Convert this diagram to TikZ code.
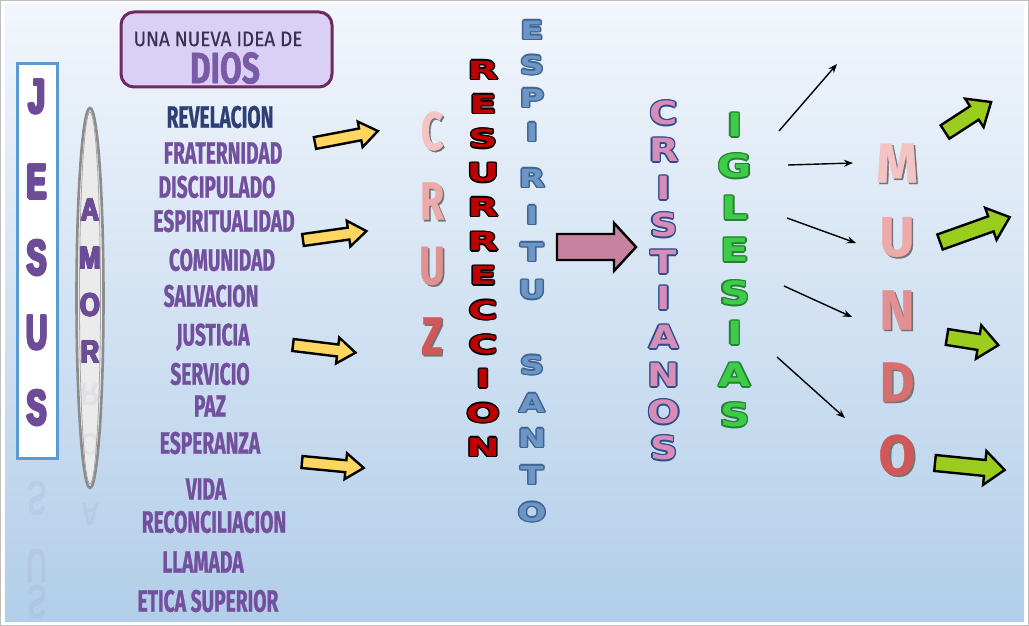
\documentclass[tikz,border=0pt]{standalone}
\usepackage{fontspec}
\usetikzlibrary{arrows.meta}
\setmainfont{Fira Sans}
\newfontfamily\listfont[FakeStretch=0.62,FakeBold=0.8]{Fira Sans}
\newfontfamily\headfont[FakeStretch=0.9,FakeBold=0.6]{Fira Sans}
\newfontfamily\diosfont[FakeStretch=0.72,FakeBold=1]{Fira Sans}
\newfontfamily\jfont[FakeStretch=0.6]{Liberation Sans}
\newfontfamily\afont[FakeStretch=0.8]{Liberation Sans}
\newfontfamily\widefont[FakeStretch=1.6]{DejaVu Sans}
\newfontfamily\wideb[FakeStretch=1.2]{DejaVu Sans}
\newfontfamily\widee[FakeStretch=1.35]{DejaVu Sans}
\newfontfamily\widec[FakeStretch=1.3]{DejaVu Sans}
\newfontfamily\comic[FakeStretch=0.72,FakeBold=0.6]{Fira Sans}
\newfontfamily\comicw[FakeStretch=0.95,FakeBold=0.6]{Fira Sans}
\definecolor{bgtop}{RGB}{242,246,252}
\definecolor{bgbot}{RGB}{178,206,233}
\definecolor{lpurple}{RGB}{115,80,158}
\definecolor{ldark}{RGB}{46,62,118}
\definecolor{jpurple}{RGB}{108,76,150}
\definecolor{boxfill}{RGB}{218,208,246}
\definecolor{boxdraw}{RGB}{110,42,94}
\definecolor{headtext}{RGB}{58,48,80}
\definecolor{diosc}{RGB}{122,90,166}
\definecolor{jblue}{RGB}{91,155,213}
\definecolor{resred}{RGB}{192,0,0}
\definecolor{espfill}{RGB}{110,150,196}
\definecolor{espline}{RGB}{60,100,148}
\definecolor{crpink}{RGB}{216,140,184}
\definecolor{crblue}{RGB}{43,76,140}
\definecolor{iggreen}{RGB}{61,203,72}
\definecolor{igdark}{RGB}{36,130,50}
\definecolor{yarrow}{RGB}{255,215,96}
\definecolor{garrow}{RGB}{154,205,30}
\definecolor{parrow}{RGB}{198,130,159}
\definecolor{pk1}{RGB}{244,196,196}
\definecolor{pk2}{RGB}{236,170,170}
\definecolor{pk3}{RGB}{225,145,145}
\definecolor{pk4}{RGB}{214,112,112}
\definecolor{pk5}{RGB}{208,88,88}
\tikzset{
  lw/.style={font=\listfont\bfseries\fontsize{31}{31}\selectfont, text=lpurple, inner sep=0pt},
  jl/.style={font=\jfont\bfseries\fontsize{49}{49}\selectfont, text=jpurple, inner sep=0pt},
  al/.style={font=\afont\bfseries\fontsize{32}{32}\selectfont, text=jpurple, inner sep=0pt},
  resl/.style={font=\widefont\bfseries\fontsize{25}{25}\selectfont, inner sep=0pt},
  espl/.style={font=\widee\bfseries\fontsize{25}{25}\selectfont, inner sep=0pt},
  crl/.style={font=\wideb\bfseries\fontsize{32}{32}\selectfont, inner sep=0pt},
  igl/.style={font=\widec\bfseries\fontsize{32}{32}\selectfont, inner sep=0pt},
  bigl/.style={font=\comic\bfseries\fontsize{54}{54}\selectfont, inner sep=0pt},
  bigw/.style={font=\comicw\bfseries\fontsize{56}{56}\selectfont, inner sep=0pt},
  blockarr/.style={draw=black, line width=2.4pt, line join=miter},
  thinarr/.style={line width=1.4pt, -{Stealth[length=9pt,width=7pt]}},
}
% outlined letter: #1 name, #2 position, #3 style, #4 outline colour, #5 fill colour, #6 text, #7 outline width
\newcommand\olnodew[7]{%
  \foreach \dx/\dy in {1/0,-1/0,0/1,0/-1,0.7/0.7,-0.7/0.7,0.7/-0.7,-0.7/-0.7}{%
    \node[#3,text=#4,xshift=\dx*#7,yshift=\dy*#7] at #2 {#6};}
  \node[#3,text=#5] (#1) at #2 {#6};}
\newcommand\olnode[6]{\olnodew{#1}{#2}{#3}{#4}{#5}{#6}{1.5pt}}
\newcommand\shnode[5]{%
  \node[#3,text=black!55,xshift=1.6pt,yshift=-1.6pt] at #2 {#5};
  \node[#3,text=#4] (#1) at #2 {#5};}
\newcommand\blockarrow[9]{%
  \begin{scope}[shift={(#2,#3)},rotate=#4]
    \draw[blockarr,fill=#9] (0,-#6) -- ({#5-#8},-#6) -- ({#5-#8},-#7) -- (#5,0)
      -- ({#5-#8},#7) -- ({#5-#8},#6) -- (0,#6) -- cycle;
    \coordinate (#1) at (#5,0);
  \end{scope}}
\begin{document}
\begin{tikzpicture}[x=1pt,y=-1pt]
\useasboundingbox (0,0) rectangle (1029,626);
\fill[white] (0,0) rectangle (1029,626);
\shade[top color=bgtop, bottom color=bgbot] (5,5) rectangle (1024,621);
\draw[black!25, line width=0.8pt] (0.4,0.4) rectangle (1028.6,625.6);

% title box
\draw[line width=3pt, draw=boxdraw, fill=boxfill, rounded corners=13pt] (121,12) rectangle (332,87);
\node[font=\headfont\fontsize{21}{21}\selectfont, text=headtext, inner sep=0pt] (una) at (218,39) {UNA NUEVA IDEA DE};
\node[font=\diosfont\bfseries\fontsize{44}{44}\selectfont, text=diosc, inner sep=0pt] (dios) at (225,68) {DIOS};

% JESUS
\draw[line width=3pt, draw=jblue, fill=white] (17,64) rectangle (57,458);
\foreach \l/\y/\n in {J/97/1,E/182/2,S/258/3,U/333/4,S/408/5}{
  \olnodew{jes\n}{(37,\y)}{jl}{jpurple}{jpurple}{\l}{1.3pt}}
\foreach \l/\y in {S/498,U/566,S/602}{
  \node[jl, opacity=0.07, yscale=-1] at (37,\y) {\l};}

% AMOR
\draw[line width=2.6pt, draw=black!45, fill=white!92!black] (90,298) ellipse [x radius=13.5, y radius=190];
\draw[line width=0.8pt, draw=black!35] (90,298) ellipse [x radius=10.5, y radius=186];
\foreach \l/\y/\n in {A/210/1,M/258/2,O/305/3,R/352/4}{
  \olnodew{amor\n}{(90,\y)}{al}{jpurple}{jpurple}{\l}{0.9pt}}
\foreach \l/\y in {R/395,O/445,A/515}{
  \node[al, opacity=0.07, yscale=-1] at (90,\y) {\l};}

% list
\node[lw, text=ldark] (w1) at (220,117) {REVELACION};
\node[lw] (w2) at (223,153) {FRATERNIDAD};
\node[lw] (w3) at (217,187) {DISCIPULADO};
\node[lw] (w4) at (224,221) {ESPIRITUALIDAD};
\node[lw] (w5) at (222,260) {COMUNIDAD};
\node[lw] (w6) at (211,296) {SALVACION};
\node[lw] (w7) at (213,337) {JUSTICIA};
\node[lw] (w8) at (210,374) {SERVICIO};
\node[lw] (w9) at (210,406) {PAZ};
\node[lw] (w10) at (210,443) {ESPERANZA};
\node[lw] (w11) at (206,489) {VIDA};
\node[lw] (w12) at (214,522) {RECONCILIACION};
\node[lw] (w13) at (203,562) {LLAMADA};
\node[lw] (w14) at (208,601) {ETICA SUPERIOR};

% yellow arrows
\blockarrow{ya1}{315}{143}{10.8}{64}{6}{13}{18}{yarrow}
\blockarrow{ya2}{303}{240}{8}{64}{6}{13}{18}{yarrow}
\blockarrow{ya3}{293}{345}{-7}{63}{6}{13}{18}{yarrow}
\blockarrow{ya4}{302}{462}{-5.5}{62}{6}{13}{18}{yarrow}

% CRUZ
\shnode{cz1}{(432,131)}{bigl}{pk1}{C}
\shnode{cz2}{(432,201)}{bigl}{pk2}{R}
\shnode{cz3}{(432,266)}{bigl}{pk3}{U}
\shnode{cz4}{(432,336)}{bigl}{pk5}{Z}

% RESURRECCION
\foreach \l [count=\i] in {R,E,S,U,R,R,E,C,C,I,O,N}{
  \olnode{res\i}{(483,{70+34.3*(\i-1)})}{resl}{black}{resred}{\l}}

% ESPIRITU SANTO
\foreach \l/\y [count=\i] in {E/30,S/65,P/98,I/132,R/178,I/215,T/252,U/290,S/365,A/403,N/438,T/475,O/512}{
  \olnode{esp\i}{(532,\y)}{espl}{espline}{espfill}{\l}}

% pink arrow
\blockarrow{pa}{557}{247}{0}{79}{13}{24}{22}{parrow}

% CRISTIANOS
\foreach \l/\y [count=\i] in {C/113,R/150,I/188,S/225,T/262,I/298,A/337,N/375,O/412,S/448}{
  \olnode{cr\i}{(664,\y)}{crl}{crblue}{crpink}{\l}}

% IGLESIAS
\foreach \l/\y [count=\i] in {I/125,G/166,L/208,E/250,S/293,I/333,A/375,S/415}{
  \olnode{ig\i}{(735,\y)}{igl}{igdark}{iggreen}{\l}}

% MUNDO
\shnode{mu1}{(897,163)}{bigw}{pk1}{M}
\shnode{mu2}{(897,237)}{bigw}{pk2}{U}
\shnode{mu3}{(897,310)}{bigw}{pk3}{N}
\shnode{mu4}{(897,382)}{bigw}{pk4}{D}
\shnode{mu5}{(897,455)}{bigw}{pk5}{O}

% thin arrows
\coordinate (t1s) at (779,131); \coordinate (t1e) at (837,64);
\coordinate (t2s) at (788,165); \coordinate (t2e) at (853,163);
\coordinate (t3s) at (787,218); \coordinate (t3e) at (856,243);
\coordinate (t4s) at (784,286); \coordinate (t4e) at (852,317);
\coordinate (t5s) at (777,357); \coordinate (t5e) at (845,418);
\foreach \k in {1,...,5}{\draw[thinarr] (t\k s) -- (t\k e);}

% green arrows
\blockarrow{ga1}{945}{132}{33}{55}{8}{17}{20}{garrow}
\blockarrow{ga2}{940}{242}{19.6}{74}{8}{17}{20}{garrow}
\blockarrow{ga3}{947}{337}{-9}{52}{8}{17}{20}{garrow}
\blockarrow{ga4}{935}{463}{-5.7}{70}{8}{17}{20}{garrow}
\end{tikzpicture}
\end{document}
